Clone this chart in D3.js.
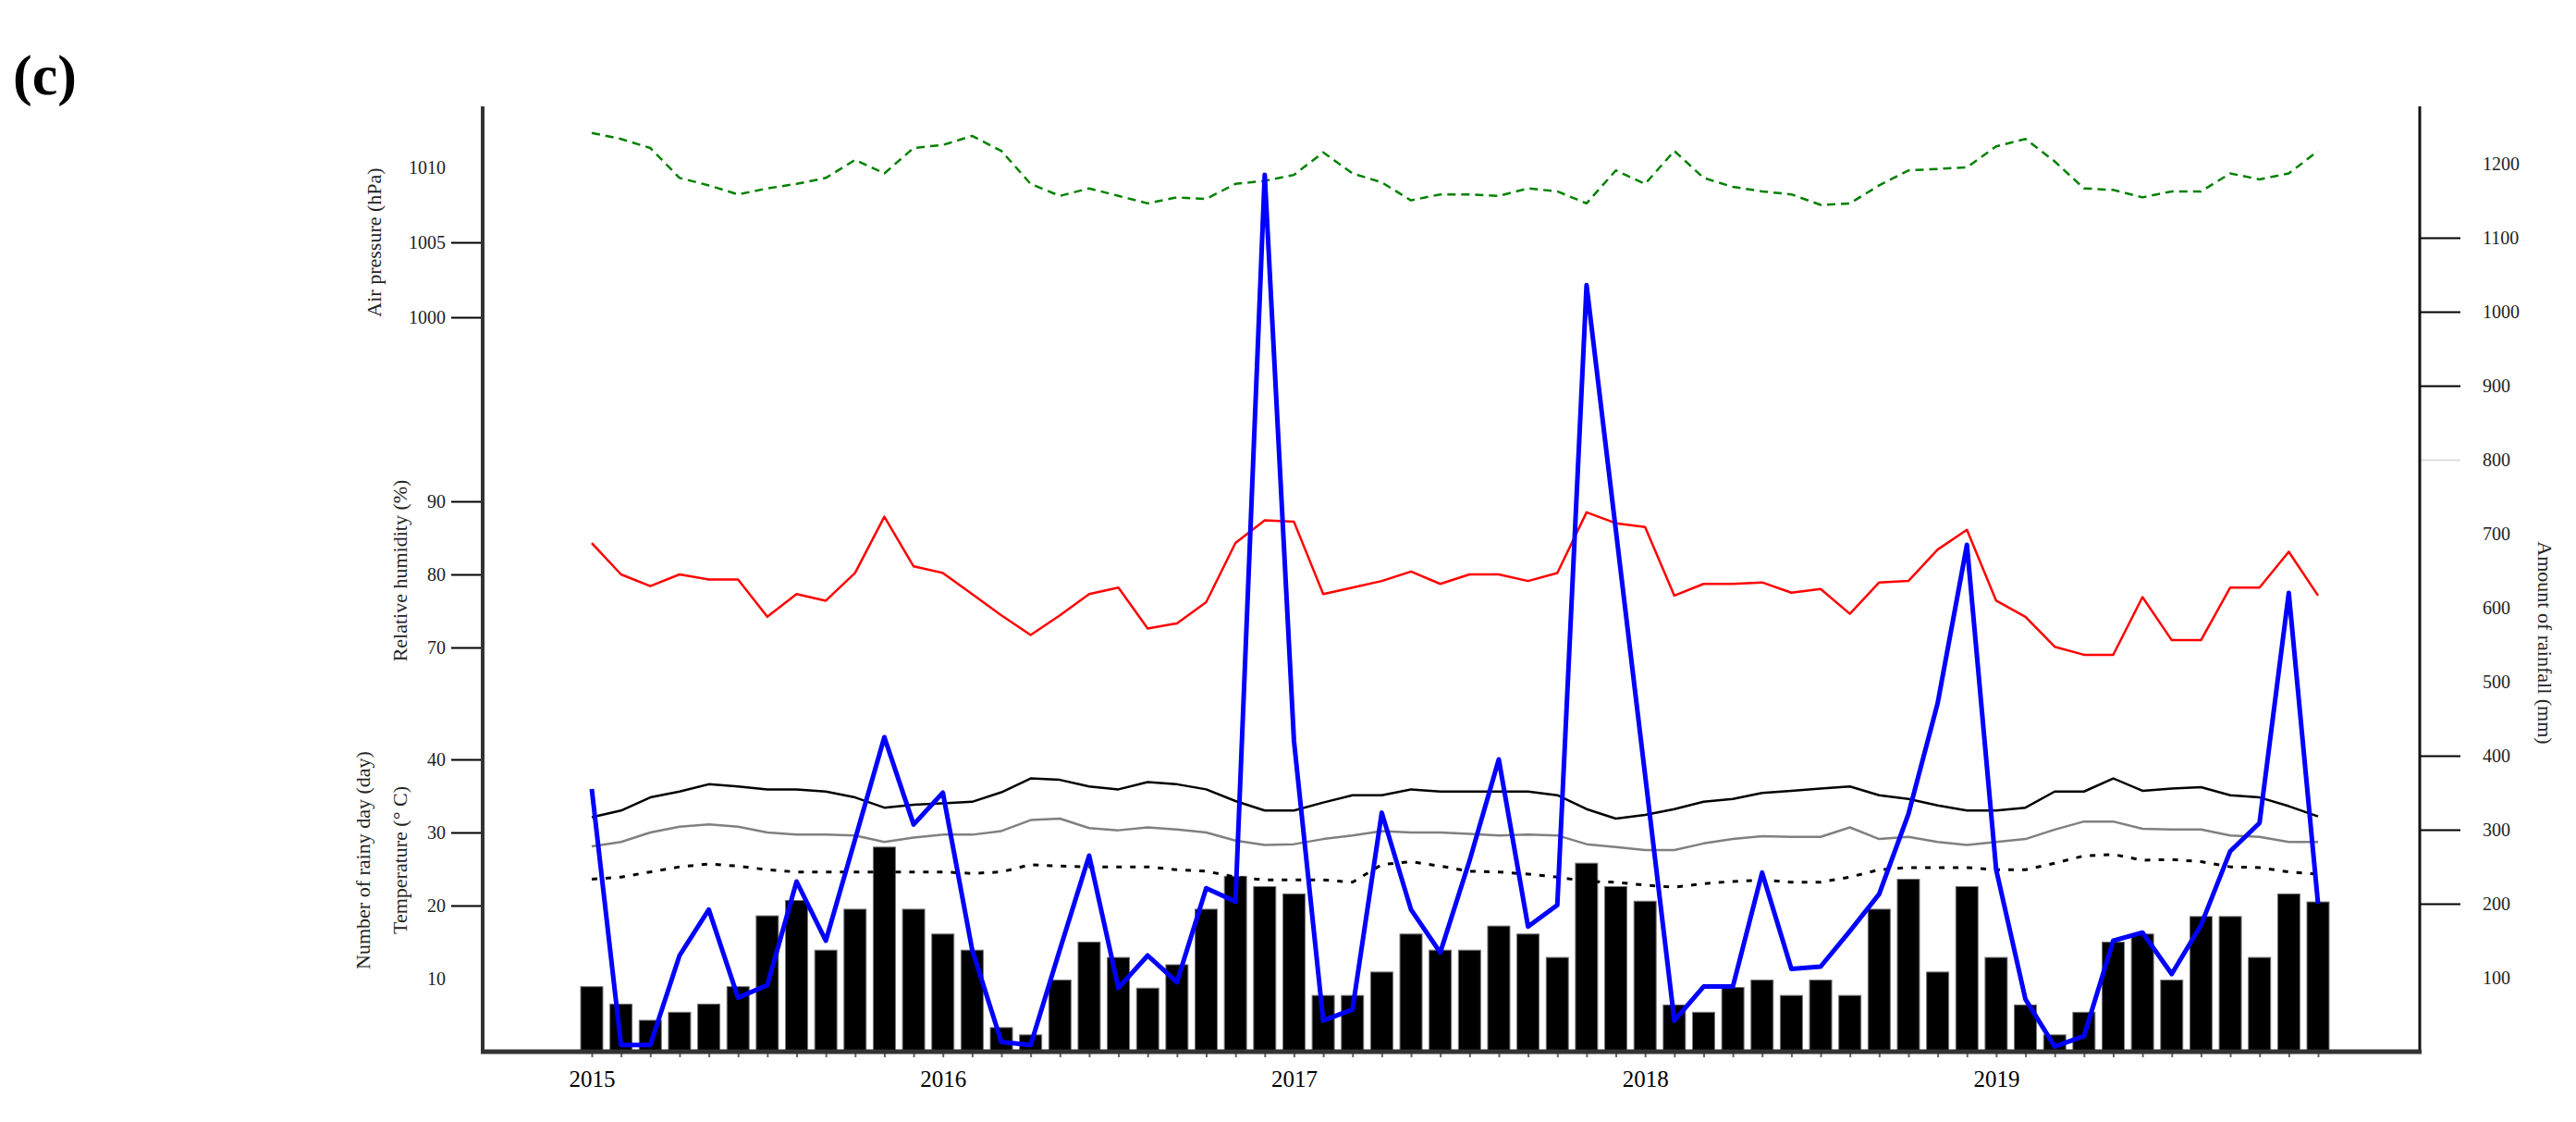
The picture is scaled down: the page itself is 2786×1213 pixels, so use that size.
<!DOCTYPE html>
<html><head><meta charset="utf-8">
<script src="https://cdn.jsdelivr.net/npm/d3@7/dist/d3.min.js"></script>
<style>body{margin:0;background:#fff}svg{display:block}text{font-family:"Liberation Serif","DejaVu Serif",serif}</style>
</head><body><svg id="c" width="2786" height="1213"></svg>
<script>
const years = [2015, 2016, 2017, 2018, 2019];
const months = years.flatMap(y => d3.range(1, 13).map(m => y + "-" + m));
const rainyDays = [8.9,6.5,4.3,5.4,6.5,8.9,18.6,20.7,13.9,19.5,28.0,19.5,
  16.1,13.9,3.3,2.3,9.8,15.0,12.9,8.7,11.9,19.5,24.0,22.6,
  21.6,7.7,7.7,10.9,16.1,13.9,13.9,17.2,16.1,12.9,25.8,22.6,
  20.6,6.4,5.4,8.8,9.8,7.7,9.8,7.7,19.5,23.6,10.9,22.6,
  12.9,6.4,2.3,5.4,15.0,16.1,9.8,18.5,18.5,12.9,21.6,20.5];
const rainfall = [355,9,9,130,192,73,90,230,150,287,425,307,
  350,138,13,9,138,265,86,130,94,221,203,1185,
  420,42,57,323,192,134,258,395,169,198,1036,705,
  374,42,88,88,242,112,115,163,213,321,471,685,
  246,71,7,21,150,161,105,171,271,309,620,200];
const tempMax = [32.1,33.0,34.8,35.6,36.6,36.3,35.9,35.9,35.6,34.8,33.4,33.8,
  34.0,34.2,35.5,37.4,37.2,36.3,35.9,36.9,36.6,35.9,34.3,33.0,
  33.0,34.1,35.1,35.1,35.9,35.6,35.6,35.6,35.6,35.1,33.2,31.9,
  32.4,33.2,34.2,34.6,35.4,35.7,36.0,36.3,35.1,34.6,33.7,33.0,
  33.0,33.4,35.6,35.6,37.4,35.7,36.0,36.2,35.1,34.8,33.6,32.2];
const tempMean = [28.1,28.7,30.0,30.8,31.1,30.8,30.0,29.7,29.7,29.6,28.7,29.3,
  29.7,29.7,30.2,31.7,31.9,30.6,30.3,30.7,30.4,30.0,28.9,28.3,
  28.4,29.1,29.6,30.2,30.0,30.0,29.8,29.6,29.7,29.6,28.4,28.0,
  27.6,27.6,28.5,29.1,29.5,29.4,29.4,30.7,29.1,29.4,28.7,28.3,
  28.7,29.1,30.4,31.5,31.5,30.5,30.4,30.4,29.6,29.4,28.7,28.7];
const tempMin = [23.6,23.9,24.6,25.3,25.7,25.4,24.9,24.6,24.6,24.6,24.6,24.6,
  24.6,24.4,24.6,25.6,25.4,25.3,25.3,25.3,24.9,24.7,23.9,23.5,
  23.5,23.5,23.2,25.6,26.0,25.4,24.7,24.6,24.3,23.9,23.3,23.2,
  22.8,22.5,23.0,23.3,23.5,23.2,23.2,23.9,24.9,25.2,25.2,25.2,
  24.9,24.9,25.8,26.8,27.0,26.2,26.3,26.0,25.3,25.2,24.6,24.3];
const humidity = [84.3,80.0,78.4,80.0,79.3,79.3,74.2,77.3,76.4,80.2,87.9,81.1,
  80.2,77.3,74.4,71.7,74.4,77.3,78.2,72.6,73.3,76.2,84.3,87.4,
  87.2,77.3,78.2,79.1,80.4,78.7,80.0,80.0,79.1,80.2,88.5,87.0,
  86.5,77.1,78.7,78.7,78.9,77.5,78.0,74.6,78.9,79.1,83.4,86.1,
  76.4,74.2,70.1,69.0,69.0,76.9,71.0,71.0,78.2,78.2,83.1,77.1];
const pressure = [1012.3,1011.9,1011.3,1009.3,1008.8,1008.2,1008.6,1008.9,1009.3,1010.5,1009.6,1011.3,
  1011.5,1012.1,1011.1,1008.9,1008.1,1008.6,1008.1,1007.6,1008.0,1007.9,1008.9,1009.1,
  1009.5,1011.0,1009.6,1009.0,1007.8,1008.2,1008.2,1008.1,1008.6,1008.4,1007.6,1009.8,
  1008.9,1011.1,1009.3,1008.7,1008.4,1008.2,1007.5,1007.6,1008.8,1009.8,1009.9,1010.0,
  1011.4,1011.9,1010.4,1008.6,1008.5,1008.0,1008.4,1008.4,1009.6,1009.2,1009.6,1011.1];
const pressTicks = [1000, 1005, 1010];
const humTicks = [70, 80, 90];
const tempTicks = [10, 20, 30, 40];
const rainTicks = [100,200,300,400,500,600,700,800,900,1000,1100,1200];

const svg = d3.select("#c");
const L = 522, R = 2617, B = 1137, T = 115;
const x = d3.scalePoint().domain(months).range([640, 2507]);
const yP = d3.scaleLinear().domain([1000, 1010]).range([343, 181]);
const yH = d3.scaleLinear().domain([70, 90]).range([700, 542]);
const yT = d3.scaleLinear().domain([0, 40]).range([B, 821]);
const yR = d3.scaleLinear().domain([0, 1200]).range([B, 177]);

// bars
svg.append("g").selectAll("rect").data(rainyDays).join("rect")
  .attr("x", (d, i) => x(months[i]) - 12).attr("width", 24)
  .attr("y", d => yT(d)).attr("height", d => B - yT(d))
  .attr("fill", "#000").attr("stroke", "#777").attr("stroke-width", 1);

const line = (ys, data) => d3.line().x((d, i) => x(months[i])).y(d => ys(d))(data);
const addLine = (ys, data, color, w, dash) => svg.append("path").attr("d", line(ys, data))
  .attr("fill", "none").attr("stroke", color).attr("stroke-width", w)
  .attr("stroke-dasharray", dash || null).attr("stroke-linejoin", "round");

addLine(yT, tempMax, "#000", 2.5);
addLine(yT, tempMean, "#808080", 2.5);
addLine(yT, tempMin, "#000", 3, "6,9");
addLine(yH, humidity, "#ff0000", 2.5);
addLine(yP, pressure, "#008000", 2.5, "9,6");
addLine(yR, rainfall, "#0000ff", 5);

// axes
const fontTick = "20px";
function styleAxis(g, noLine) {
  g.select(".domain").remove();
  g.selectAll("text").attr("font-size", fontTick).attr("fill", "#222");
  g.selectAll(".tick").each(function(d) {
    if (noLine.includes(d)) d3.select(this).select("line").remove();
  });
  g.selectAll("line").attr("stroke", "#000").attr("stroke-width", 2);
}
const gl = [[yP, pressTicks, [1010]], [yH, humTicks, []], [yT, tempTicks, [10]]];
gl.forEach(([s, tv, nl]) => {
  const g = svg.append("g").attr("transform", `translate(${L},0)`)
    .call(d3.axisLeft(s).tickValues(tv).tickSize(34).tickPadding(6).tickFormat(d3.format("d")));
  styleAxis(g, nl);
});
const gr = svg.append("g").attr("transform", `translate(${R},0)`)
  .call(d3.axisRight(yR).tickValues(rainTicks).tickSize(44).tickPadding(24).tickFormat(d3.format("d")));
styleAxis(gr, [100, 500, 600, 700, 1200]);
gr.selectAll(".tick").filter(d => d === 800).select("line").attr("stroke", "#ddd");

// bottom axis with month ticks
const gb = svg.append("g").attr("transform", `translate(0,${B})`)
  .call(d3.axisBottom(x).tickValues(months).tickSize(6).tickPadding(14)
    .tickFormat(m => m.endsWith("-1") && m.split("-")[1] === "1" ? m.split("-")[0] : ""));
gb.select(".domain").remove();
gb.selectAll("line").attr("stroke", "#666").attr("stroke-width", 2);
gb.selectAll("text").attr("font-size", "25px").attr("fill", "#000");

svg.append("line").attr("x1", L).attr("x2", L).attr("y1", T).attr("y2", B + 2).attr("stroke", "#333").attr("stroke-width", 4);
svg.append("line").attr("x1", R).attr("x2", R).attr("y1", T).attr("y2", B + 2).attr("stroke", "#111").attr("stroke-width", 3);
svg.append("line").attr("x1", L - 2).attr("x2", R + 2).attr("y1", B).attr("y2", B).attr("stroke", "#333").attr("stroke-width", 5);

// titles
const rt = (tx, ty, ang, txt) => svg.append("text").attr("transform", `translate(${tx},${ty}) rotate(${ang})`)
  .attr("text-anchor", "middle").attr("font-size", "22px").attr("fill", "#222").text(txt);
rt(412, 262, -90, "Air pressure (hPa)");
rt(440, 617, -90, "Relative humidity (%)");
rt(400, 930, -90, "Number of rainy day (day)");
rt(440, 930, -90, "Temperature (° C)");
rt(2745, 695, 90, "Amount of rainfall (mm)");
svg.append("text").attr("x", 14).attr("y", 102).attr("font-size", "62px").attr("font-weight", "bold").attr("fill", "#000").text("(c)");
</script></body></html>
